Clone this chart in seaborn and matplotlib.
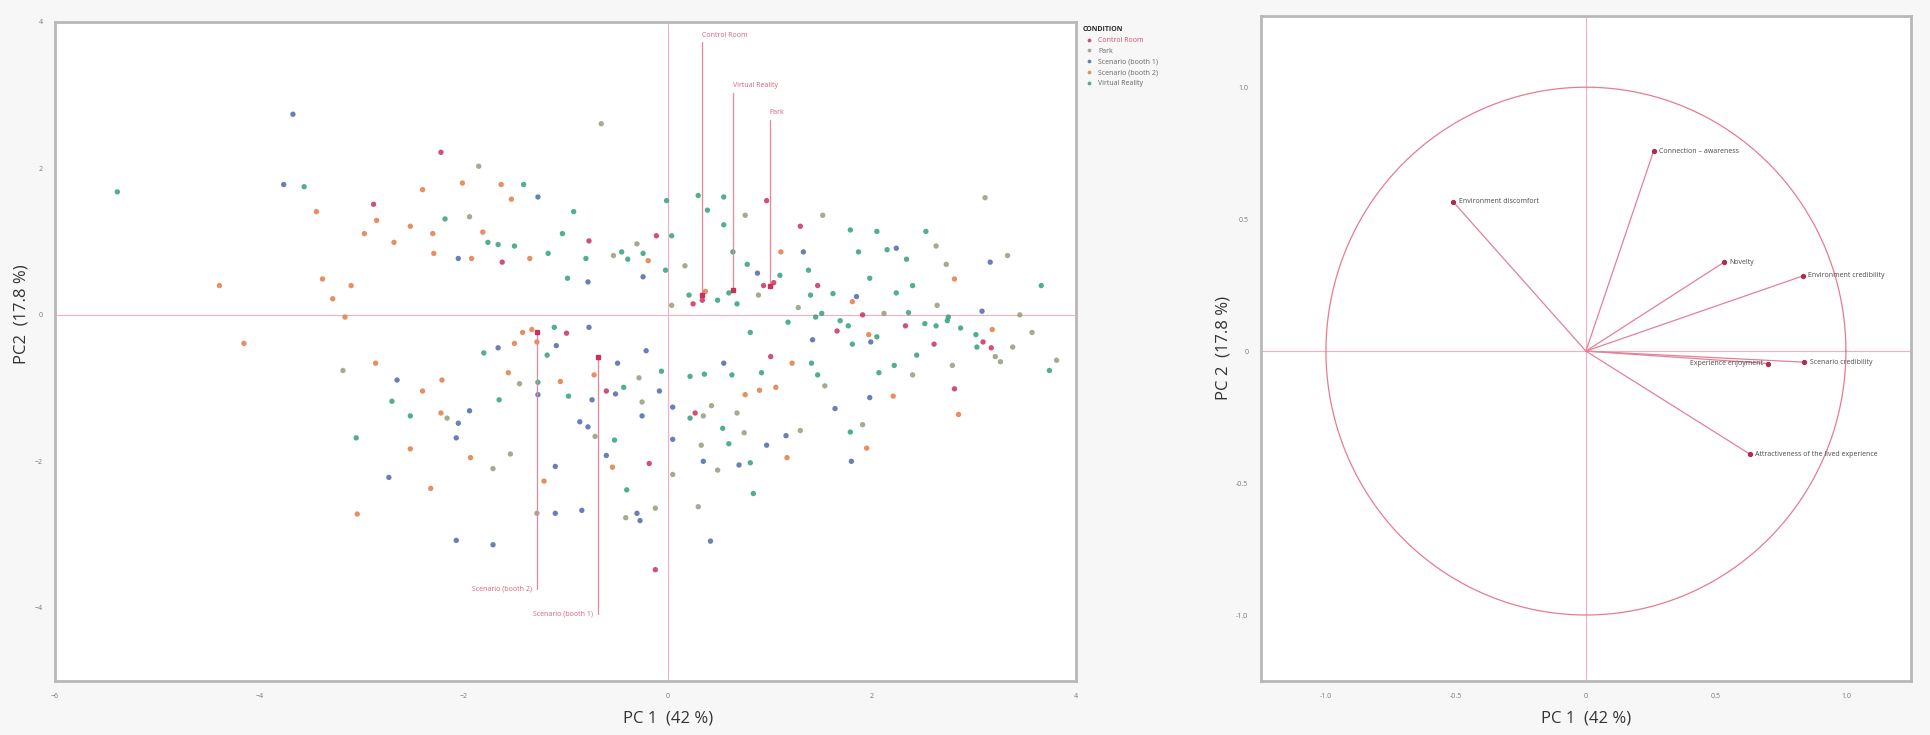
import numpy as np
import pandas as pd
import seaborn as sns
import matplotlib.pyplot as plt

# ---- scores (PC1, PC2) ----
control_x = [-2.22, -2.88, -1.62, -0.77, -0.11, 0.25, 0.34, 0.94, 1.04, 1.30, 1.47, 1.91, 2.33, 1.66,
             1.01, 2.61, 2.81, 3.09, 3.17, 0.27, -0.60, -0.99, -0.18, -0.12, 0.97]
control_y = [2.22, 1.51, 0.72, 1.01, 1.08, 0.15, 0.20, 0.40, 0.44, 1.21, 0.40, 0.00, -0.15, -0.22,
             -0.57, -0.40, -1.01, -0.37, -0.45, -1.34, -1.04, -0.25, -2.03, -3.48, 1.56]

park_x = [-0.65, -1.85, -1.94, -0.53, -0.30, 0.17, 0.04, 0.76, 0.89, 1.28, 1.52, 2.63, 2.73, 3.11,
          3.33, 3.81, 3.45, 3.26, 2.12, 0.35, 0.43, 0.68, 0.75, 1.30, 0.05, -0.12, -0.28, -0.25,
          -0.71, -0.41, -1.45, -2.16, -3.18, -1.71, -1.54, -1.28, 0.30, 0.49, 0.33, 1.54, 1.91,
          2.79, 2.40, 3.21, 3.38, 3.57, 2.64]
park_y = [2.61, 2.03, 1.34, 0.81, 0.97, 0.67, 0.13, 1.36, 0.27, 0.10, 1.36, 0.94, 0.69, 1.60,
          0.81, -0.62, 0.00, -0.64, 0.02, -1.38, -1.24, -1.34, -1.61, -1.58, -2.18, -2.64, -0.86,
          -1.19, -1.66, -2.77, -0.94, -1.41, -0.76, -2.10, -1.90, -2.71, -2.62, -2.12, -1.78,
          -0.97, -1.50, -0.69, -0.82, -0.57, -0.44, -0.24, 0.13]

booth1_x = [-3.67, -3.76, -1.27, -2.05, -0.78, -0.24, 0.88, 1.33, 2.24, 3.16, 3.08, 1.85, 1.99,
            1.64, 1.98, 1.42, 0.55, 0.35, 0.97, 1.16, 1.80, 0.70, 0.42, 0.05, 0.05, -0.08, -0.21,
            -0.49, -0.51, -0.25, -0.77, -1.09, -1.66, -0.74, -0.78, -0.86, -0.60, -0.30, -0.27,
            -0.84, -1.10, -1.27, -1.94, -2.05, -2.65, -2.73, -2.07, -2.07, -1.71, -1.10]
booth1_y = [2.74, 1.78, 1.61, 0.77, 0.45, 0.52, 0.57, 0.86, 0.91, 0.72, 0.05, 0.25, -0.37,
            -1.28, -1.13, -0.34, -0.66, -2.00, -1.78, -1.65, -2.00, -2.05, -3.09, -1.70, -1.26,
            -1.04, -0.49, -0.66, -1.08, -1.38, -0.17, -0.42, -0.45, -1.16, -1.53, -1.46, -1.92,
            -2.71, -2.81, -2.67, -2.71, -1.09, -1.31, -1.48, -0.89, -2.22, -1.68, -3.08, -3.14, -2.07]

booth2_x = [-3.44, -2.40, -2.01, -1.63, -1.53, -2.85, -2.97, -2.52, -2.68, -2.30, -2.29, -1.81,
            -1.92, -1.35, -0.19, 0.37, 1.11, 1.81, 2.81, 1.97, 1.22, 0.90, 1.06, 0.76, 1.17, 1.95,
            2.21, 2.85, 3.18, -0.72, -1.33, -1.28, -1.42, -1.50, -1.56, -1.05, -2.22, -2.40, -2.21,
            -2.86, -2.52, -2.32, -1.93, -1.21, -3.04, -0.54, -4.39, -4.15, -3.28, -3.10, -3.16, -3.38]
booth2_y = [1.41, 1.71, 1.80, 1.78, 1.58, 1.29, 1.11, 1.21, 0.99, 1.11, 0.84, 1.13, 0.77, 0.77,
            0.74, 0.32, 0.86, 0.18, 0.49, -0.27, -0.66, -1.03, -0.99, -1.09, -1.95, -1.82, -1.11,
            -1.36, -0.20, -0.82, -0.20, -0.37, -0.24, -0.39, -0.79, -0.91, -1.34, -1.04, -0.89,
            -0.66, -1.83, -2.37, -1.95, -2.27, -2.72, -2.08, 0.40, -0.39, 0.22, 0.40, -0.03, 0.49]

vr_x = [-5.39, -3.56, -1.41, -2.18, -1.76, -1.66, -1.50, -1.17, -1.03, -0.92, -0.80, -0.98, -0.45,
        -0.39, -0.24, -0.01, 0.04, -0.02, 0.21, 0.30, 0.55, 0.39, 0.55, 0.64, 0.78, 0.49, 0.60,
        0.68, 1.10, 1.38, 1.40, 1.51, 1.62, 1.69, 1.79, 1.87, 2.05, 2.15, 2.34, 2.53, 3.66, 3.74,
        2.75, 2.87, 3.02, 3.03, 2.36, 1.81, 0.81, 0.92, 0.63, 0.22, 0.36, 0.22, 0.54, 0.81, 1.79,
        0.84, 0.60, 1.41, 2.07, 2.22, 2.44, 2.63, 2.74, 1.77, 1.45, 2.52, 2.40, 2.24, 1.98, 1.18,
        2.05, 1.47, -0.06, -0.43, -1.11, -1.18, -1.80, -1.27, -0.97, -1.65, -2.52, -2.70, -3.05,
        -0.52, -0.40]
vr_y = [1.68, 1.75, 1.78, 1.31, 0.99, 0.96, 0.94, 0.84, 1.11, 1.41, 0.77, 0.50, 0.86, 0.76, 0.84,
        1.56, 1.08, 0.61, 0.27, 1.63, 1.61, 1.43, 1.23, 0.86, 0.69, 0.20, 0.30, 0.15, 0.54, 0.61,
        0.27, 0.02, 0.29, -0.08, 1.16, 0.86, 1.14, 0.89, 0.76, 1.14, 0.40, -0.76, -0.03, -0.18,
        -0.27, -0.44, 0.03, -0.40, -0.24, -0.79, -0.82, -0.84, -0.81, -1.41, -1.55, -2.02, -1.60,
        -2.44, -1.76, -0.66, -0.79, -0.69, -0.55, -0.15, -0.08, -0.15, -0.03, -0.12, 0.40, 0.30,
        0.50, -0.10, -0.30, -0.82, -0.77, -0.99, -0.17, -0.55, -0.52, -0.92, -1.11, -1.16, -1.38,
        -1.18, -1.68, -1.71, -2.39]

conditions = ["Control Room", "Park", "Scenario (booth 1)", "Scenario (booth 2)", "Virtual Reality"]
colors = ["#c8325a", "#909f7a", "#4d69ad", "#e07d45", "#33a07c"]

# group centroids (label text goes at the end of a leader line)
centroid_x = [0.34, 1.00, -0.68, -1.28, 0.64]
centroid_y = [0.27, 0.40, -0.57, -0.24, 0.34]
label_y = [3.72, 2.66, -4.08, -3.74, 3.03]

# ---- loadings ----
variables = ["Environment discomfort", "Connection \u2013 awareness", "Novelty",
             "Environment credibility", "Scenario credibility", "Experience enjoyment",
             "Attractiveness of the lived experience"]
load_pc1 = [-0.51, 0.26, 0.53, 0.835, 0.84, 0.70, 0.63]
load_pc2 = [0.565, 0.757, 0.336, 0.285, -0.042, -0.047, -0.39]

xs = [control_x, park_x, booth1_x, booth2_x, vr_x]
ys = [control_y, park_y, booth1_y, booth2_y, vr_y]
scores = pd.concat([pd.DataFrame({"PC1": x, "PC2": y, "CONDITION": c})
                    for x, y, c in zip(xs, ys, conditions)], ignore_index=True)

sns.set_style("white")
plt.rcParams["font.family"] = ["Open Sans", "DejaVu Sans"]

pink = "#f5b0c0"
spine_col = "#b8b8b8"

fig = plt.figure(figsize=(19.31, 7.35), dpi=100, facecolor="#f7f7f7")
ax1 = fig.add_axes([0.0285, 0.0735, 0.5287, 0.8966])
ax2 = fig.add_axes([0.653, 0.0735, 0.3366, 0.9048])

# ---- left: scores ----
ax1.axhline(0, color=pink, lw=0.8, zorder=0)
ax1.axvline(0, color=pink, lw=0.8, zorder=0)
sns.scatterplot(data=scores, x="PC1", y="PC2", hue="CONDITION", hue_order=conditions,
                palette=dict(zip(conditions, colors)), s=15, linewidth=0, alpha=0.85, ax=ax1)

for name, cx, cy, ly in zip(conditions, centroid_x, centroid_y, label_y):
    ax1.plot([cx, cx], [cy, ly], color="#e8869c", lw=0.9, zorder=3)
    ax1.plot(cx, cy, marker="s", ms=2.5, color="#c8325a", zorder=4)
    if ly > 0:
        ax1.text(cx, ly + 0.05, name, color="#e0607a", fontsize=5, ha="left", va="bottom")
    else:
        ax1.text(cx - 0.05, ly, name, color="#e0607a", fontsize=5, ha="right", va="center")

ax1.set_xlim(-6, 4)
ax1.set_ylim(-5, 4)
ax1.set_xticks([-6, -4, -2, 0, 2, 4])
ax1.set_yticks([-4, -2, 0, 2, 4])
ax1.set_xlabel("PC 1  (42 %)", fontsize=12, color="#333333")
ax1.set_ylabel("PC2  (17.8 %)", fontsize=12, color="#333333")
ax1.xaxis.set_label_coords(0.6, -0.045)
ax1.yaxis.set_label_coords(-0.025, 0.556)

leg = ax1.legend(title="CONDITION", loc="upper left", bbox_to_anchor=(1.002, 1.0),
                 frameon=False, fontsize=5, title_fontsize=5, markerscale=0.7,
                 handletextpad=0.3, labelspacing=0.55, borderaxespad=0.2)
leg.get_title().set_fontweight("bold")
for t in leg.get_texts():
    t.set_color("#d05070" if t.get_text() == "Control Room" else "#666666")
leg._legend_box.align = "left"

# ---- right: loadings ----
ax2.axhline(0, color=pink, lw=0.8, zorder=0)
ax2.axvline(0, color=pink, lw=0.8, zorder=0)
theta = np.linspace(0, 2 * np.pi, 400)
ax2.plot(np.cos(theta), np.sin(theta), color="#ea7a92", lw=0.9)

for name, lx, ly in zip(variables, load_pc1, load_pc2):
    ax2.plot([0, lx], [0, ly], color="#e48099", lw=0.9)
    ax2.plot(lx, ly, marker="o", ms=2.8, color="#a8304c")
    if name == "Experience enjoyment":
        ax2.text(lx - 0.02, ly, name, fontsize=5, color="#4a4a4a", ha="right", va="center")
    else:
        ax2.text(lx + 0.02, ly, name, fontsize=5, color="#4a4a4a", ha="left", va="center")

ax2.set_xlim(-1.25, 1.25)
ax2.set_ylim(-1.25, 1.27)
ax2.set_xticks([-1.0, -0.5, 0, 0.5, 1.0])
ax2.set_yticks([-1.0, -0.5, 0, 0.5, 1.0])
ax2.set_xticklabels(["-1.0", "-0.5", "0", "0.5", "1.0"])
ax2.set_yticklabels(["-1.0", "-0.5", "0", "0.5", "1.0"])
ax2.set_xlabel("PC 1  (42 %)", fontsize=12, color="#333333")
ax2.set_ylabel("PC 2  (17.8 %)", fontsize=12, color="#333333")
ax2.xaxis.set_label_coords(0.5, -0.045)
ax2.yaxis.set_label_coords(-0.045, 0.5)

for ax in (ax1, ax2):
    ax.set_facecolor("white")
    for sp in ax.spines.values():
        sp.set_color(spine_col)
        sp.set_linewidth(2)
    ax.tick_params(axis="both", labelsize=5, colors="#777777", length=3, width=0.8,
                   direction="out", pad=6)

fig.savefig("out.png", dpi=100, facecolor=fig.get_facecolor())
